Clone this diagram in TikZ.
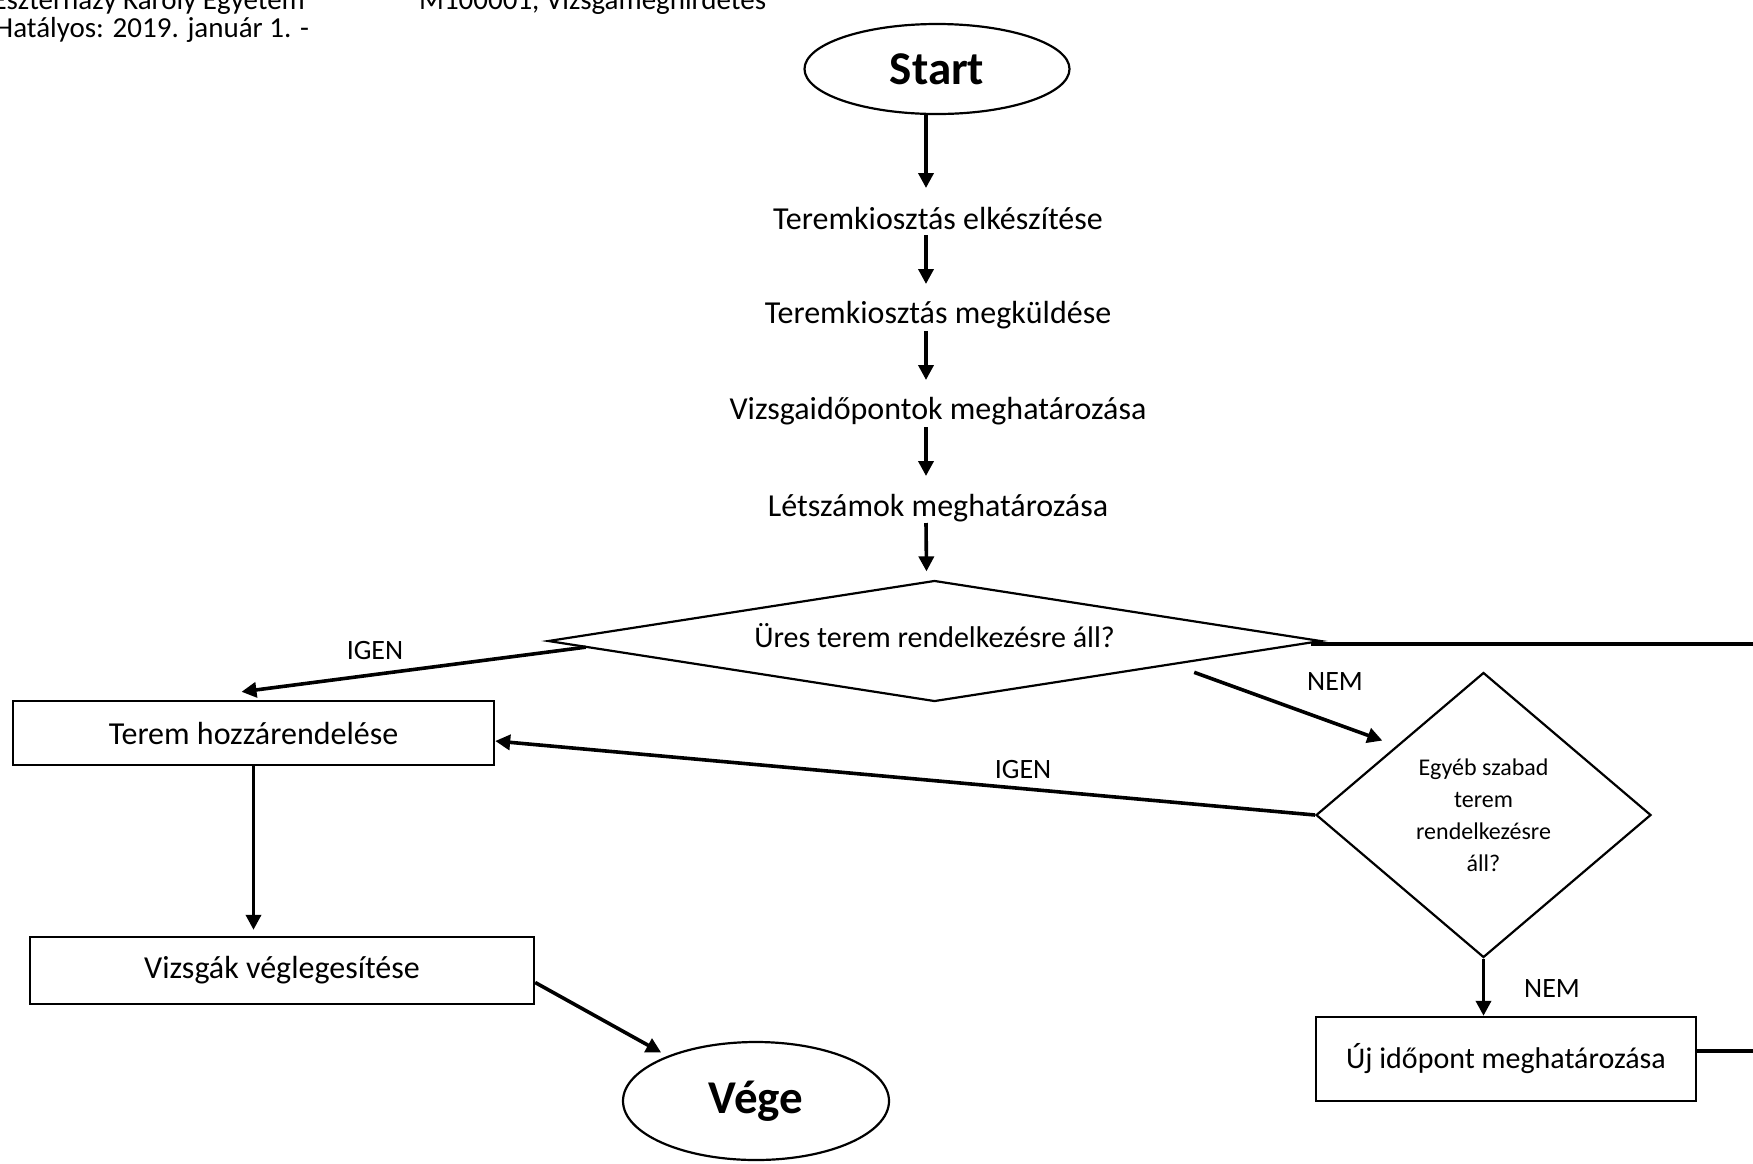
\documentclass[tikz,border=0pt]{standalone}
\usepackage{fontspec}
\setmainfont{Carlito}
\usetikzlibrary{shapes.geometric,arrows.meta,calc}
\begin{document}
\begin{tikzpicture}[x=1pt,y=-1pt,
  lbl/.style={font=\fontsize{32}{38}\selectfont, inner sep=0pt},
  yn/.style={font=\fontsize{28}{34}\selectfont, inner sep=0pt},
  hdr/.style={font=\fontsize{29}{35}\selectfont, inner sep=0pt},
  boxnode/.style={draw, line width=2.4pt, rectangle, inner sep=0pt, font=\fontsize{32}{38}\selectfont},
  term/.style={draw, line width=2.2pt, ellipse, inner sep=0pt, font=\fontsize{47}{56}\selectfont\bfseries},
  decision/.style={draw, line width=2.2pt, diamond, inner sep=0pt},
  arr/.style={line width=3.6pt, -{Triangle[length=15pt,width=15pt]}},
  conn/.style={line width=3.6pt},
]
\useasboundingbox (0,0) rectangle (1753,1163);

% header (cut off at the top of the page, as in the original)
\node[hdr, anchor=base east] (h1) at (305,9) {Eszterházy Károly Egyetem};
\node[hdr, anchor=base west] (h2) at (419,9) {M100001, Vizsgameghirdetés};
\node[hdr, anchor=base west] (h3) at (-5,37) {Hatályos: 2019. január 1. -};

% nodes
\node[term, minimum width=265pt, minimum height=90pt] (start) at (937,69) {Start};
\node[lbl] (t1) at (938,218) {Teremkiosztás elkészítése};
\node[lbl] (t2) at (938,315) {Teremkiosztás megküldése};
\node[lbl] (t3) at (938,411) {Vizsgaidőpontok meghatározása};
\node[lbl] (t4) at (938,508) {Létszámok meghatározása};
\node[decision, aspect=6.4, minimum width=773pt, minimum height=121pt, text depth=12pt,
      font=\fontsize{30}{36}\selectfont] (d1) at (934.5,641) {Üres terem rendelkezésre áll?};
\node[boxnode, minimum width=481pt, minimum height=64pt] (box1) at (253.5,733) {Terem hozzárendelése};
\node[boxnode, minimum width=504pt, minimum height=67pt] (box2) at (282,970.5) {Vizsgák véglegesítése};
\node[term, minimum width=266pt, minimum height=118pt] (vege) at (756,1101) {Vége};
\node[decision, minimum width=335pt, minimum height=285pt, align=center,
      font=\fontsize{24}{32}\selectfont] (d2) at (1483.5,815) {Egyéb szabad\\terem\\rendelkezésre\\áll?};
\node[boxnode, minimum width=380pt, minimum height=84pt, font=\fontsize{30}{36}\selectfont] (box3) at (1506,1059) {Új időpont meghatározása};

% labels
\node[yn] (igen1) at (375,650) {IGEN};
\node[yn] (igen2) at (1023,769) {IGEN};
\node[yn] (nem1) at (1335,682) {NEM};
\node[yn] (nem2) at (1552,988) {NEM};

% helper coordinates
\coordinate (c1) at (box1.south |- box2.north);
\coordinate (c2) at (d2.south |- box3.north);
\coordinate (r1) at (1775,644);
\coordinate (r2) at (1775,1051);

% connectors
\draw[arr] ([xshift=-11pt]start.south) -- ([xshift=-12pt,yshift=30pt]t1.center);
\draw[arr] ([xshift=-12pt,yshift=-17pt]t1.center) -- ([xshift=-12pt,yshift=31pt]t2.center);
\draw[arr] ([xshift=-12pt,yshift=-16pt]t2.center) -- ([xshift=-12pt,yshift=31pt]t3.center);
\draw[arr] ([xshift=-12pt,yshift=-16pt]t3.center) -- ([xshift=-12pt,yshift=32pt]t4.center);
\draw[arr] ([xshift=-12pt,yshift=-15pt]t4.center) -- ([xshift=-8pt,yshift=8pt]d1.north);
\draw[arr] ($(d1.west)!0.1!(d1.south)$) -- ([xshift=-12pt,yshift=8pt]box1.north);
\draw[arr] ([yshift=-11pt]$(d1.east)!0.33!(d1.south)$) -- ([yshift=17pt]$(d2.west)!0.4!(d2.north)$);
\draw[arr] (d2.west) -- ([yshift=-8pt]box1.east);
\draw[arr] (box1.south) -- ([yshift=6pt]c1);
\draw[arr] ([yshift=-12pt]box2.east) -- ([yshift=6pt]vege.north west);
\draw[arr] (d2.south) -- (c2);
\draw[conn] ([xshift=-11pt,yshift=-3pt]d1.east) -- (r1);
\draw[conn] ([yshift=8pt]box3.east) -- (r2);
\end{tikzpicture}
\end{document}
